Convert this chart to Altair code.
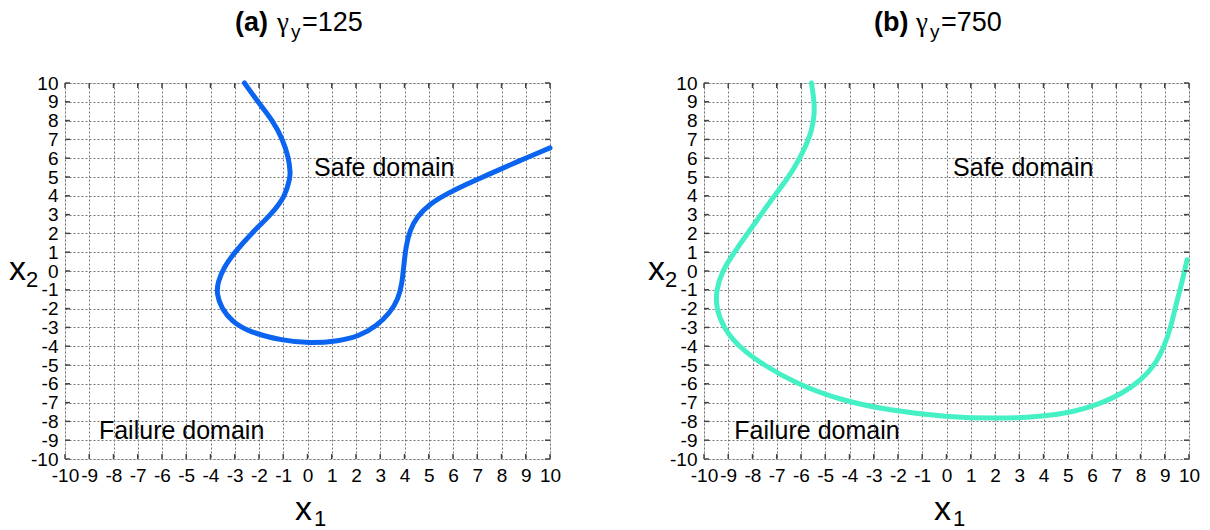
import altair as alt
import pandas as pd

# ---------------- data ----------------
tick_values = list(range(-10, 11))

# panel (a) gamma_y = 125 : limit-state curve
a_x1 = [-2.6, -2.05, -1.43, -1.02, -0.77, -0.71, -0.72, -0.9, -1.5, -2.32, -3.0, -3.45,
        -3.7, -3.75, -3.55, -3.1, -2.4, -1.03, 0.07, 1.3, 2.13, 2.85, 3.4, 3.74, 3.9,
        3.98, 4.06, 4.22, 4.5, 5.05, 5.74, 6.56, 7.52, 8.62, 10.0]
a_x2 = [10.0, 9.0, 8.0, 7.0, 6.0, 5.2, 5.0, 4.0, 3.0, 2.0, 1.0, 0.2,
        -0.6, -1.2, -2.0, -2.7, -3.25, -3.7, -3.85, -3.73, -3.46, -2.93, -2.22, -1.5, -0.67,
        0.4, 1.3, 2.16, 2.87, 3.58, 4.1, 4.63, 5.16, 5.8, 6.55]

# panel (b) gamma_y = 750 : limit-state curve
b_x1 = [-5.57, -5.45, -5.45, -5.55, -5.75, -6.05, -6.5, -7.1, -7.65, -8.2, -8.75, -9.25,
        -9.5, -9.5, -9.2, -8.6, -7.56, -6.18, -4.35, -2.37, 0.0, 2.06, 3.74, 5.27,
        6.34, 7.25, 8.02, 8.6, 8.98, 9.25, 9.47, 9.7, 9.92]
b_x2 = [10.0, 9.0, 8.3, 7.5, 6.8, 6.0, 5.0, 4.0, 3.0, 2.0, 1.0, 0.0,
        -1.0, -2.0, -3.0, -4.0, -5.0, -6.0, -6.88, -7.41, -7.77, -7.85, -7.77, -7.5,
        -7.06, -6.52, -5.8, -5.0, -4.0, -3.0, -1.74, -0.67, 0.6]

label_text = ["Safe domain", "Failure domain"]
label_x1 = [0.27, -8.6]
label_x2 = [5.5, -8.5]

b_label_x1 = [0.27, -8.75]
b_label_x2 = [5.5, -8.5]

# ---------------- layout constants ----------------
W, H = 485, 376
FONT = "Liberation Sans"
FRAME = "#444444"


def piece(s, xpos, ypos, size, weight="normal", font=FONT):
    return alt.Chart(pd.DataFrame({"t": [s]})).mark_text(
        align="left", baseline="alphabetic", font=font, fontSize=size,
        fontWeight=weight, color="black"
    ).encode(x=alt.value(xpos), y=alt.value(ypos), text="t:N")


def panel(xs, ys, color, lx, ly, tag, gval):
    curve = pd.DataFrame({"x1": xs, "x2": ys, "i": list(range(len(xs)))})
    ticks = pd.DataFrame({"x1": tick_values, "x2": tick_values})
    labels = pd.DataFrame({"x1": lx, "x2": ly, "t": label_text})
    xsc = alt.Scale(domain=[-10, 10], nice=False, zero=False)
    ysc = alt.Scale(domain=[-10, 10], nice=False, zero=False)
    common = dict(
        values=tick_values, title=None, grid=True, gridDash=[2, 2],
        gridColor="#777777", gridWidth=1, domain=False, ticks=False,
        labelFont=FONT, labelFontSize=19, labelColor="black",
        labelFlush=False, labelOverlap=False, labelBound=False,
        labelExpr="toString(datum.value)")
    xax = alt.Axis(labelPadding=7, **common)
    yax = alt.Axis(labelPadding=7, **common)
    X = alt.X("x1:Q", scale=xsc, axis=xax)
    Y = alt.Y("x2:Q", scale=ysc, axis=yax)

    line = alt.Chart(curve).mark_line(
        color=color, strokeWidth=5, interpolate="basis", strokeCap="round"
    ).encode(x=X, y=Y, order="i:Q")

    txt = alt.Chart(labels).mark_text(
        align="left", baseline="middle", font=FONT, fontSize=25, color="black"
    ).encode(x=X, y=Y, text="t:N")

    rule_style = dict(color=FRAME, strokeWidth=1.5)
    t_bottom = alt.Chart(ticks).mark_rule(**rule_style).encode(
        x=X, y=alt.value(H), y2=alt.value(H - 5))
    t_top = alt.Chart(ticks).mark_rule(**rule_style).encode(
        x=X, y=alt.value(0), y2=alt.value(5))
    t_left = alt.Chart(ticks).mark_rule(**rule_style).encode(
        y=Y, x=alt.value(0), x2=alt.value(5))
    t_right = alt.Chart(ticks).mark_rule(**rule_style).encode(
        y=Y, x=alt.value(W), x2=alt.value(W - 5))

    title = [
        piece(tag, 170, -52, 27, "bold"),
        piece("γ", 212, -52, 27, font="Liberation Serif"),
        piece("y", 226, -45, 19),
        piece("=" + gval, 237, -52, 27),
    ]
    axis_titles = [
        piece("x", -56, 197, 34),
        piece("2", -39, 204, 22),
        piece("x", 230, 437, 34),
        piece("1", 249, 443, 22),
    ]

    return alt.layer(line, txt, t_bottom, t_top, t_left, t_right,
                     *title, *axis_titles).properties(width=W, height=H)


left = panel(a_x1, a_x2, "#0A64F0", label_x1, label_x2, "(a)", "125")
right = panel(b_x1, b_x2, "#45F0C5", b_label_x1, b_label_x2, "(b)", "750")

chart = alt.hconcat(left, right, spacing=85).properties(
    padding={"left": 0, "top": 0, "right": 0, "bottom": 0}
).configure_view(stroke=FRAME, strokeWidth=1.5).configure(background="white")

chart.save("out.html", embed_options={"renderer": "svg", "actions": False})
